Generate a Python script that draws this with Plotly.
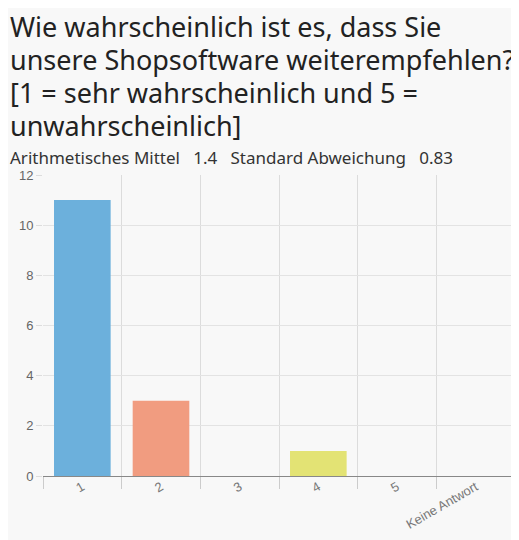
import plotly.graph_objects as go

categories = ["1", "2", "3", "4", "5", "Keine Antwort"]
values = [11, 3, 0, 1, 0, 0]
colors = ["#6cb0dc", "#f19c80", "#c9c9c9", "#e3e374", "#c9c9c9", "#c9c9c9"]
y_ticks = [0, 2, 4, 6, 8, 10, 12]
title_lines = ["Wie wahrscheinlich ist es, dass Sie", "unsere Shopsoftware weiterempfehlen?",
               "[1 = sehr wahrscheinlich und 5 =", "unwahrscheinlich]"]
subtitle = "Arithmetisches Mittel   1.4   Standard Abweichung   0.83"

W, H, L, T, B, R = 511, 532, 35, 167, 64, 4
ph = H - T - B
pw = W - L - R
xpos = list(range(len(categories)))
fig = go.Figure(go.Bar(x=xpos, y=values, marker_color=colors, width=0.72, marker_line_width=0))
bg = "#f8f8f8"
fig.update_layout(
    width=W, height=H, paper_bgcolor=bg, plot_bgcolor=bg,
    margin=dict(l=L, r=R, t=T, b=B), showlegend=False,
    font=dict(family="Liberation Sans, Arial", color="#666", size=12),
    xaxis=dict(range=[-0.5, 5.5], tickvals=xpos, ticktext=categories, tickangle=-30,
               showgrid=False, zeroline=False, ticks="", tickfont=dict(size=13, color="#777"),
               minor=dict(tickvals=[i - 0.5 for i in range(7)], showgrid=True, gridcolor="#dcdcdc",
                          ticks="outside", ticklen=12, tickcolor="#ccc")),
    yaxis=dict(range=[0, 12], tickvals=y_ticks, gridcolor="#e3e3e3", zeroline=True,
               zerolinecolor="#888", zerolinewidth=1, ticks="outside", ticklen=6,
               tickcolor="#ddd", tickfont=dict(size=13, color="#666")),
)
for i, line in enumerate(title_lines):
    fig.add_annotation(text=line, xref="paper", yref="paper", x=-(L - 0) / pw, xanchor="left",
                       y=1 + (T + 2 - 33 * i) / ph, yanchor="top", showarrow=False,
                       font=dict(family="Noto Sans, sans-serif", size=27, color="#222"))
fig.add_annotation(text=subtitle, xref="paper", yref="paper", x=-(L - 0) / pw, xanchor="left",
                   y=1 + (T - 149) / ph, yanchor="middle", showarrow=False,
                   font=dict(family="Noto Sans, sans-serif", size=17, color="#333"))
fig.write_html("out.html")
